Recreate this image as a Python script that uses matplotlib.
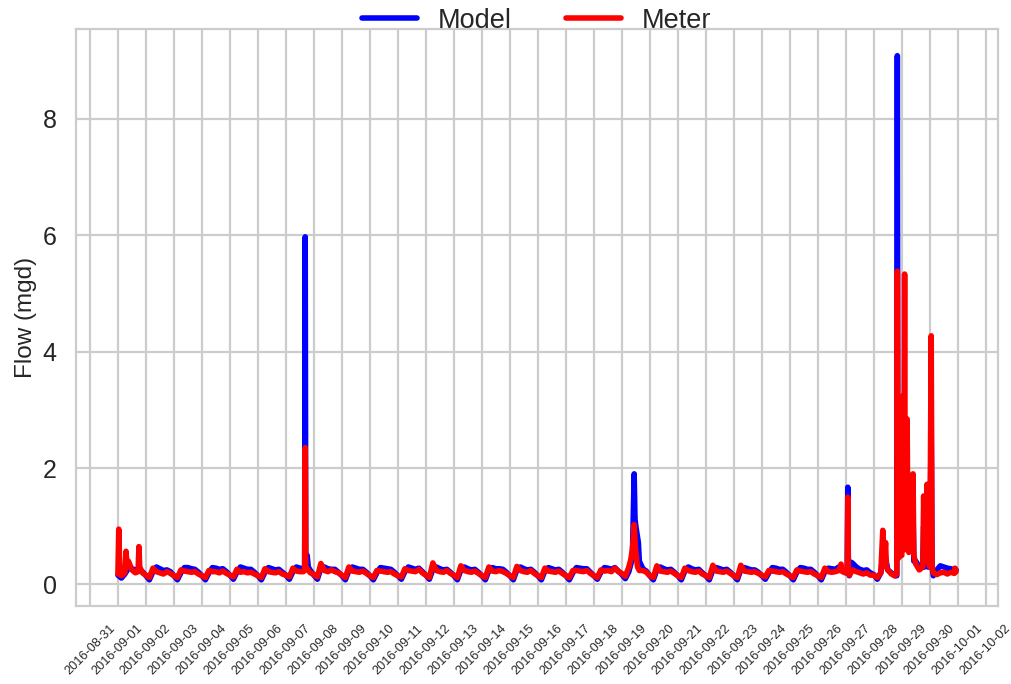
import numpy as np
import pandas as pd
import matplotlib
matplotlib.use("Agg")
import matplotlib.pyplot as plt
import matplotlib.dates as mdates
import seaborn as sns

# Three-hourly flows (mgd) for 2016-09-01 .. 2016-09-30, columns at 00,03,...,21 h
sample_hours = [0, 3, 6, 9, 12, 15, 18, 21]

model_base = [
    [0.16, 0.11, 0.18, 0.28, 0.27, 0.25, 0.27, 0.22],
    [0.15, 0.08, 0.22, 0.30, 0.27, 0.24, 0.25, 0.22],
    [0.15, 0.08, 0.20, 0.29, 0.29, 0.27, 0.26, 0.21],
    [0.15, 0.08, 0.20, 0.29, 0.28, 0.26, 0.27, 0.22],
    [0.16, 0.09, 0.21, 0.30, 0.28, 0.26, 0.26, 0.21],
    [0.15, 0.08, 0.21, 0.29, 0.27, 0.25, 0.26, 0.21],
    [0.16, 0.09, 0.22, 0.30, 0.28, 0.27, 0.45, 0.24],
    [0.16, 0.09, 0.28, 0.30, 0.27, 0.26, 0.26, 0.21],
    [0.15, 0.08, 0.24, 0.30, 0.28, 0.26, 0.26, 0.21],
    [0.15, 0.08, 0.20, 0.29, 0.28, 0.27, 0.26, 0.21],
    [0.15, 0.09, 0.22, 0.30, 0.28, 0.26, 0.28, 0.22],
    [0.16, 0.09, 0.26, 0.30, 0.27, 0.25, 0.26, 0.21],
    [0.15, 0.08, 0.25, 0.30, 0.27, 0.25, 0.26, 0.21],
    [0.15, 0.08, 0.24, 0.29, 0.27, 0.27, 0.26, 0.21],
    [0.15, 0.08, 0.25, 0.30, 0.27, 0.25, 0.26, 0.21],
    [0.15, 0.08, 0.23, 0.29, 0.27, 0.25, 0.26, 0.21],
    [0.15, 0.08, 0.20, 0.29, 0.28, 0.27, 0.27, 0.21],
    [0.15, 0.09, 0.21, 0.29, 0.28, 0.26, 0.29, 0.23],
    [0.17, 0.10, 0.22, 0.45, 1.00, 0.40, 0.27, 0.23],
    [0.15, 0.08, 0.25, 0.30, 0.27, 0.25, 0.26, 0.21],
    [0.15, 0.08, 0.23, 0.30, 0.27, 0.25, 0.26, 0.20],
    [0.15, 0.08, 0.25, 0.29, 0.27, 0.25, 0.26, 0.21],
    [0.15, 0.08, 0.26, 0.29, 0.27, 0.25, 0.25, 0.21],
    [0.15, 0.09, 0.20, 0.29, 0.28, 0.26, 0.26, 0.21],
    [0.15, 0.08, 0.21, 0.29, 0.28, 0.26, 0.26, 0.21],
    [0.15, 0.08, 0.22, 0.28, 0.27, 0.26, 0.30, 0.24],
    [0.20, 0.15, 0.36, 0.30, 0.26, 0.24, 0.25, 0.20],
    [0.17, 0.09, 0.20, 0.35, 0.25, 0.20, 0.15, 1.25],
    [0.90, 0.80, 0.60, 0.70, 0.40, 0.30, 0.30, 0.35],
    [0.30, 0.15, 0.25, 0.32, 0.30, 0.28, 0.27, 0.25],
]

meter_base = [
    [0.18, 0.15, 0.20, 0.40, 0.25, 0.20, 0.65, 0.20],
    [0.16, 0.12, 0.28, 0.22, 0.20, 0.18, 0.22, 0.19],
    [0.15, 0.12, 0.25, 0.23, 0.22, 0.21, 0.22, 0.18],
    [0.15, 0.12, 0.24, 0.22, 0.22, 0.20, 0.23, 0.19],
    [0.16, 0.13, 0.26, 0.21, 0.22, 0.20, 0.21, 0.18],
    [0.15, 0.12, 0.27, 0.22, 0.21, 0.20, 0.22, 0.18],
    [0.16, 0.13, 0.28, 0.23, 0.22, 0.22, 0.27, 0.20],
    [0.17, 0.13, 0.36, 0.24, 0.22, 0.25, 0.22, 0.20],
    [0.16, 0.12, 0.30, 0.23, 0.22, 0.21, 0.23, 0.19],
    [0.15, 0.12, 0.24, 0.23, 0.22, 0.21, 0.22, 0.18],
    [0.15, 0.13, 0.27, 0.24, 0.23, 0.22, 0.26, 0.20],
    [0.16, 0.12, 0.37, 0.24, 0.22, 0.21, 0.24, 0.19],
    [0.16, 0.12, 0.32, 0.24, 0.22, 0.21, 0.23, 0.19],
    [0.15, 0.12, 0.30, 0.23, 0.22, 0.24, 0.22, 0.19],
    [0.15, 0.12, 0.31, 0.24, 0.22, 0.21, 0.24, 0.19],
    [0.15, 0.12, 0.28, 0.23, 0.22, 0.21, 0.23, 0.19],
    [0.15, 0.12, 0.24, 0.24, 0.23, 0.22, 0.24, 0.19],
    [0.15, 0.12, 0.25, 0.23, 0.24, 0.22, 0.28, 0.22],
    [0.19, 0.14, 0.30, 0.60, 0.55, 0.24, 0.24, 0.21],
    [0.15, 0.12, 0.32, 0.23, 0.22, 0.21, 0.23, 0.19],
    [0.15, 0.12, 0.28, 0.24, 0.22, 0.21, 0.23, 0.18],
    [0.15, 0.12, 0.33, 0.23, 0.22, 0.21, 0.23, 0.19],
    [0.15, 0.12, 0.33, 0.23, 0.22, 0.21, 0.22, 0.19],
    [0.16, 0.13, 0.24, 0.23, 0.22, 0.21, 0.22, 0.18],
    [0.15, 0.12, 0.25, 0.23, 0.22, 0.21, 0.22, 0.18],
    [0.15, 0.12, 0.28, 0.22, 0.21, 0.22, 0.24, 0.22],
    [0.20, 0.16, 0.25, 0.22, 0.20, 0.18, 0.20, 0.16],
    [0.16, 0.12, 0.20, 0.40, 0.25, 0.18, 0.15, 0.45],
    [0.50, 0.60, 0.55, 0.60, 0.35, 0.25, 0.30, 0.40],
    [0.30, 0.20, 0.17, 0.20, 0.21, 0.18, 0.21, 0.19],
]

# Short storm responses between the regular samples (days after 2016-09-01 00:00)
model_event_day = [6.67, 6.69, 6.71, 6.76, 6.80,
                   18.44, 18.47, 18.59,
                   26.05, 26.07, 26.09, 26.20,
                   27.32, 27.42, 27.82, 27.84, 27.86, 27.93, 27.98, 28.02,
                   28.04, 28.07, 28.10, 28.19, 28.22, 28.31, 28.34, 28.40,
                   28.43, 28.78, 28.81, 28.90, 28.93, 29.05, 29.08, 29.94]
model_event_flow = [0.27, 5.97, 0.40, 0.50, 0.30,
                    1.90, 1.12, 0.72,
                    0.25, 1.67, 0.45, 0.38,
                    0.50, 0.45, 0.15, 9.08, 1.30, 1.20, 2.20, 1.00,
                    2.00, 0.70, 2.50, 1.80, 0.70, 1.20, 0.60, 1.30,
                    0.40, 1.00, 0.30, 1.20, 0.30, 2.80, 0.30, 0.25]

meter_event_day = [0.03, 0.07, 0.29, 0.33, 0.72, 0.78,
                   6.67, 6.69, 6.71,
                   18.32, 18.41, 18.44, 18.47, 18.56,
                   25.83,
                   26.05, 26.07, 26.09,
                   27.32, 27.35, 27.42, 27.45, 27.82, 27.84, 27.86, 27.95,
                   28.04, 28.07, 28.10, 28.19, 28.22, 28.31, 28.34, 28.40,
                   28.43, 28.78, 28.81, 28.90, 28.93, 29.05, 29.08,
                   29.90, 29.94]
meter_event_flow = [0.95, 0.20, 0.57, 0.30, 0.22, 0.30,
                    0.25, 2.35, 0.30,
                    0.43, 0.80, 1.03, 0.75, 0.30,
                    0.35,
                    0.22, 1.50, 0.30,
                    0.93, 0.45, 0.72, 0.30, 0.18, 5.38, 0.60, 0.50,
                    3.24, 0.60, 5.33, 2.84, 0.60, 1.87, 0.70, 1.90,
                    0.50, 1.52, 0.45, 1.72, 0.40, 4.27, 0.30,
                    0.28, 0.22]

start = pd.Timestamp("2016-09-01")


def build_series(base, event_day, event_flow):
    days = [d + h / 24.0 for d in range(len(base)) for h in sample_hours]
    flows = [v for row in base for v in row]
    s = pd.Series(flows + list(event_flow), index=days + list(event_day))
    s = s.sort_index()
    s.index = start + pd.to_timedelta(s.index, unit="D")
    return s


model = build_series(model_base, model_event_day, model_event_flow)
meter = build_series(meter_base, meter_event_day, meter_event_flow)

sns.set_style("whitegrid")
plt.rcParams["font.family"] = ["Liberation Sans", "DejaVu Sans"]
plt.rcParams["axes.edgecolor"] = "0.8"
plt.rcParams["grid.color"] = "0.8"

fig = plt.figure(figsize=(10.12, 6.84), dpi=100)
ax = fig.add_axes([0.0751, 0.114, 0.9111, 0.8429])

ax.plot(model.index, model.values, color="blue", lw=4.0, label="Model")
ax.plot(meter.index, meter.values, color="red", lw=4.0, label="Meter")

ax.xaxis.set_major_locator(mdates.DayLocator())
ax.xaxis.set_major_formatter(mdates.DateFormatter("%Y-%m-%d"))
ax.tick_params(axis="x", labelrotation=45, labelsize=9.2, length=0, pad=12)
ax.tick_params(axis="y", labelsize=18, length=0, pad=14)
ax.grid(True, lw=1.6)
for sp in ax.spines.values():
    sp.set_linewidth(1.6)

ax.set_ylabel("Flow (mgd)", fontsize=17.5, labelpad=4)

ax.legend(loc="center", bbox_to_anchor=(0.5, 1.015), ncol=2, frameon=False,
          fontsize=19.5, borderaxespad=0)

fig.savefig("out.png", dpi=100)
